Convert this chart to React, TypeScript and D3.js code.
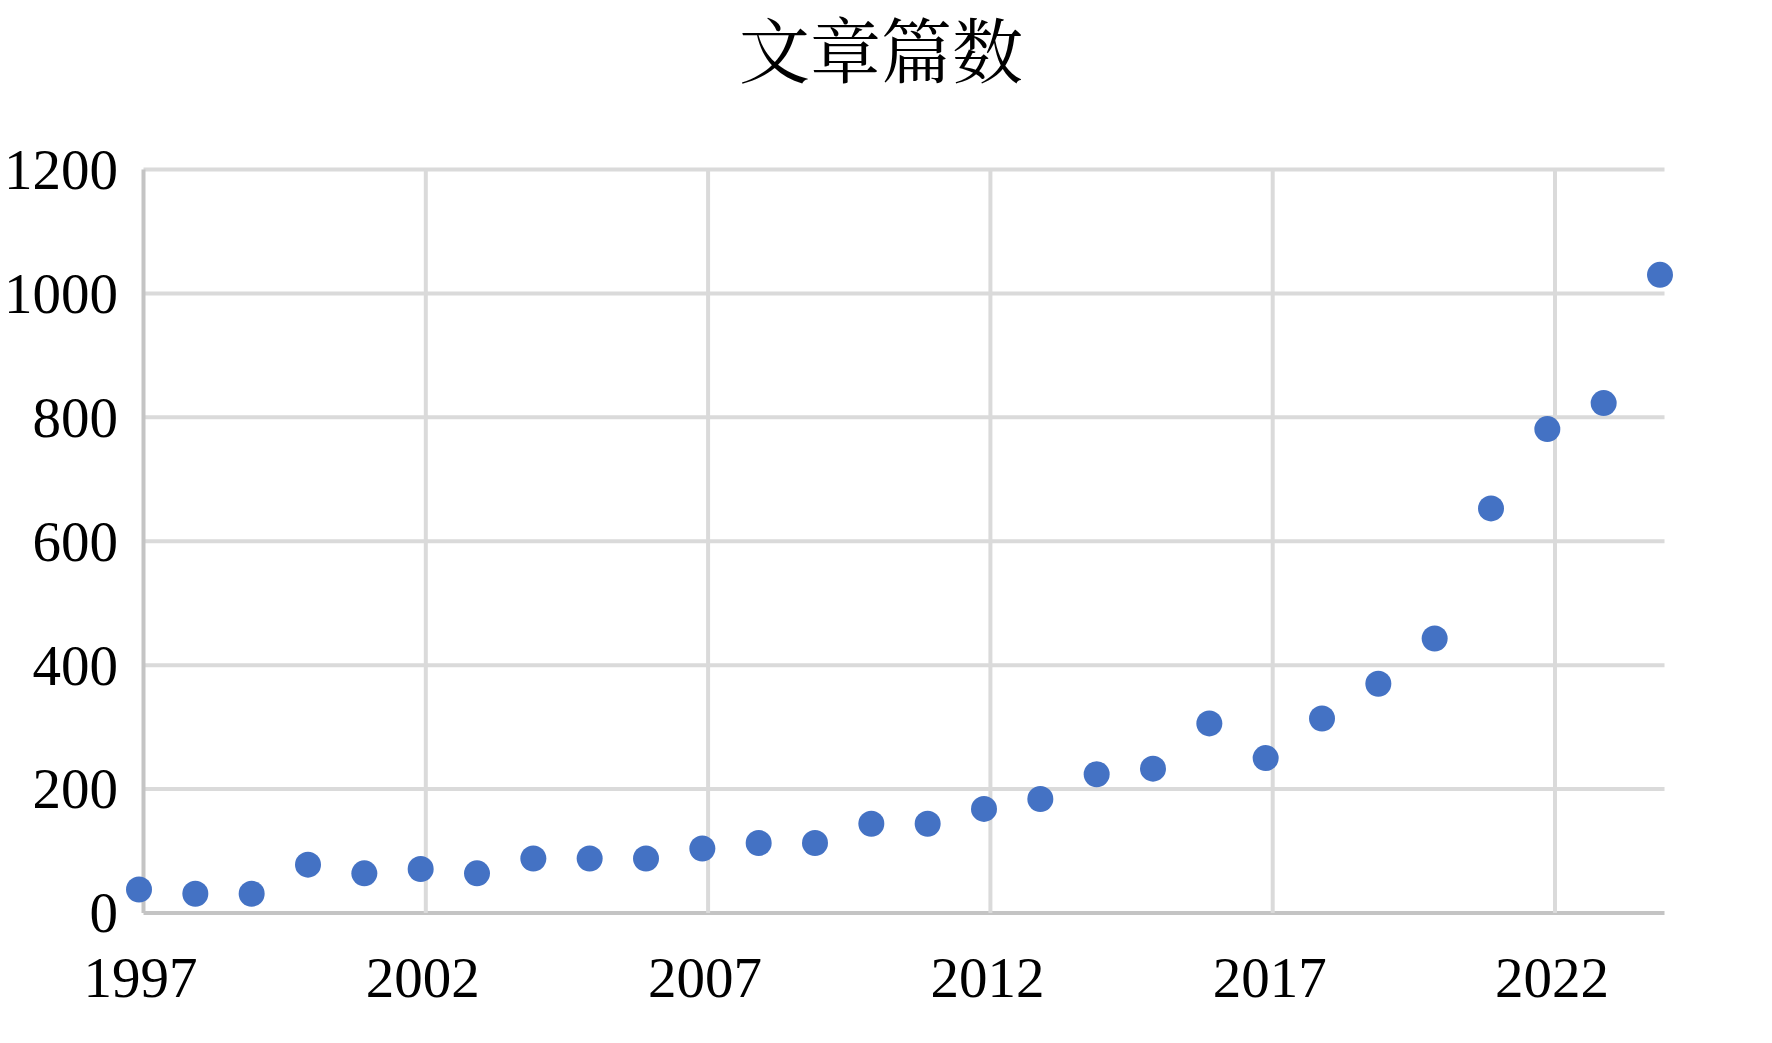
import React from "react";
import * as d3 from "d3";

const years = [1997, 1998, 1999, 2000, 2001, 2002, 2003, 2004, 2005, 2006, 2007, 2008, 2009, 2010, 2011, 2012, 2013, 2014, 2015, 2016, 2017, 2018, 2019, 2020, 2021, 2022, 2023, 2024];
const counts = [38, 31, 31, 78, 64, 71, 64, 88, 88, 88, 104, 113, 113, 144, 144, 168, 184, 224, 233, 306, 250, 314, 370, 443, 653, 781, 823, 1030];
const xTicks = [1997, 2002, 2007, 2012, 2017, 2022];
const yTicks = [0, 200, 400, 600, 800, 1000, 1200];
const title = "文章篇数";

const W = 1772;
const H = 1043;
const left = 143.5;
const right = 1664.5;
const top = 169.5;
const bottom = 913;

export default function App() {
  const x = d3.scaleLinear().domain([1997, 2024]).range([left, right]);
  const gx = d3.scaleLinear().domain([1997, 2022]).range([left, 1555]);
  const y = d3.scaleLinear().domain([0, 1200]).range([bottom, top]);
  const serif = "'Liberation Serif', 'Times New Roman', serif";
  const data = years.map((yr, i) => ({ yr, v: counts[i] }));
  return (
    <svg width={W} height={H} style={{ position: "absolute", left: 0, top: 0, background: "#fff" }}>
      <rect x={0} y={0} width={W} height={H} fill="#fff" />
      <text x={881} y={77} textAnchor="middle" fontSize={71} fontFamily="'Noto Serif CJK SC', 'Noto Sans CJK SC', serif" fill="#000">{title}</text>
      {yTicks.map((t) => (
        <line key={"gy" + t} x1={left} x2={right} y1={y(t)} y2={y(t)} stroke={t === 0 ? "#C4C4C4" : "#DADADA"} strokeWidth={4} />
      ))}
      {xTicks.map((t) => (
        <line key={"gx" + t} x1={gx(t)} x2={gx(t)} y1={top} y2={bottom} stroke={t === 1997 ? "#C4C4C4" : "#DADADA"} strokeWidth={4} />
      ))}
      {yTicks.map((t) => (
        <text key={"ty" + t} x={118} y={y(t)} dy="0.34em" textAnchor="end" fontSize={57} fontFamily={serif} fill="#000">{t}</text>
      ))}
      {xTicks.map((t) => (
        <text key={"tx" + t} x={gx(t) - 3} y={997} textAnchor="middle" fontSize={57} fontFamily={serif} fill="#000">{t}</text>
      ))}
      <g transform="translate(-4.5,0)">
        {data.map((d) => (
          <circle key={d.yr} cx={x(d.yr)} cy={y(d.v)} r={13} fill="#4472C4" />
        ))}
      </g>
    </svg>
  );
}
